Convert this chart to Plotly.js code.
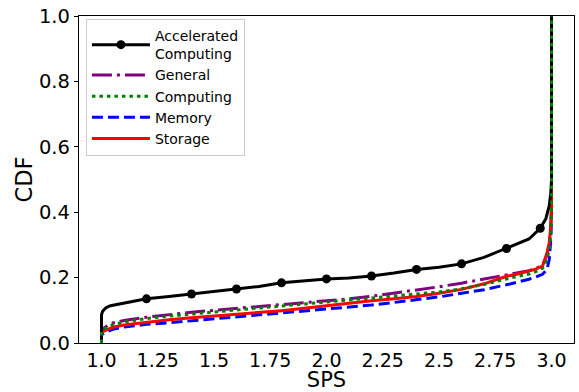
<!DOCTYPE html>
<html>
<head>
<meta charset="utf-8">
<script src="https://cdn.plot.ly/plotly-3.0.1.min.js"></script>
<style>html,body{margin:0;padding:0;background:#fff}#chart{width:579px;height:392px}</style>
</head>
<body>
<div id="chart"></div>
<script>
// ---- data ----
var seriesNames = ["Accelerated<br>Computing", "General", "Computing", "Memory", "Storage"];

var accX = [1.0, 1.0, 1.005, 1.02, 1.04, 1.1, 1.2, 1.3, 1.4, 1.5, 1.6, 1.7, 1.8, 1.9, 2.0, 2.1, 2.2, 2.3, 2.4, 2.5, 2.6, 2.7, 2.8, 2.86, 2.9, 2.95, 2.975, 2.99, 2.997, 3.0, 3.0];
var accY = [0, 0.086, 0.097, 0.108, 0.114, 0.122, 0.135, 0.142, 0.150, 0.157, 0.165, 0.173, 0.184, 0.190, 0.196, 0.199, 0.205, 0.214, 0.225, 0.232, 0.242, 0.262, 0.289, 0.307, 0.318, 0.351, 0.380, 0.420, 0.460, 0.500, 1.0];
var accMarkX = [1.2, 1.4, 1.6, 1.8, 2.0, 2.2, 2.4, 2.6, 2.8, 2.95];

var sX = [1.0, 1.0, 1.01, 1.03, 1.05, 1.1, 1.2, 1.3, 1.4, 1.5, 1.6, 1.7, 1.8, 1.9, 2.0, 2.1, 2.2, 2.3, 2.4, 2.5, 2.6, 2.7, 2.8, 2.85, 2.9, 2.93, 2.96, 2.98, 2.99, 2.997, 3.0, 3.0];
var generalY   = [0, 0.035, 0.045, 0.055, 0.061, 0.069, 0.079, 0.087, 0.094, 0.100, 0.106, 0.111, 0.116, 0.122, 0.128, 0.135, 0.143, 0.152, 0.162, 0.172, 0.183, 0.195, 0.208, 0.214, 0.221, 0.228, 0.237, 0.270, 0.300, 0.350, 0.42, 1.0];
var computingY = [0, 0.035, 0.042, 0.050, 0.056, 0.064, 0.075, 0.082, 0.089, 0.095, 0.101, 0.107, 0.113, 0.119, 0.125, 0.131, 0.136, 0.142, 0.148, 0.156, 0.166, 0.179, 0.196, 0.203, 0.211, 0.218, 0.228, 0.255, 0.285, 0.330, 0.40, 1.0];
var memoryY    = [0, 0.025, 0.030, 0.037, 0.042, 0.049, 0.057, 0.062, 0.068, 0.073, 0.078, 0.084, 0.090, 0.097, 0.104, 0.110, 0.116, 0.124, 0.132, 0.141, 0.152, 0.163, 0.178, 0.186, 0.195, 0.202, 0.210, 0.225, 0.255, 0.317, 0.40, 1.0];
var storageY   = [0, 0.030, 0.036, 0.043, 0.048, 0.055, 0.064, 0.071, 0.077, 0.082, 0.087, 0.093, 0.099, 0.106, 0.114, 0.122, 0.129, 0.135, 0.142, 0.152, 0.164, 0.181, 0.204, 0.211, 0.219, 0.226, 0.235, 0.275, 0.307, 0.360, 0.42, 1.0];

var xTickVals = [1.0, 1.25, 1.5, 1.75, 2.0, 2.25, 2.5, 2.75, 3.0];
var xTickText = ["1.0", "1.25", "1.5", "1.75", "2.0", "2.25", "2.5", "2.75", "3.0"];
var yTickVals = [0, 0.2, 0.4, 0.6, 0.8, 1.0];
var yTickText = ["0.0", "0.2", "0.4", "0.6", "0.8", "1.0"];

// ---- build ----
var accMarkY = accMarkX.map(function (mx) {
  var i = accX.indexOf(mx);
  return accY[i];
});

var FONT = "DejaVu Sans, Verdana, sans-serif";
var LW = 3;
var XRANGE = [0.9, 3.1];

var traces = [
  {x: sX, y: generalY, mode: "lines", name: seriesNames[1], legendrank: 2,
   line: {color: "#800080", width: LW, dash: "20px,5px,3px,5px"}},
  {x: sX, y: memoryY, mode: "lines", name: seriesNames[3], legendrank: 4,
   line: {color: "#0000ff", width: LW, dash: "11px,5px"}},
  {x: sX, y: storageY, mode: "lines", name: seriesNames[4], legendrank: 5,
   line: {color: "#ff0000", width: LW}},
  {x: accX, y: accY, mode: "lines", name: seriesNames[0], showlegend: false, legendgroup: "acc",
   line: {color: "#000000", width: LW}},
  {x: accMarkX, y: accMarkY, mode: "markers", name: seriesNames[0], showlegend: false, legendgroup: "acc",
   marker: {color: "#000000", size: 9}},
  {x: [null], y: [null], mode: "lines+markers", name: seriesNames[0], legendgroup: "acc", legendrank: 1,
   line: {color: "#000000", width: LW}, marker: {color: "#000000", size: 9}},
  {x: sX, y: computingY, mode: "lines", name: seriesNames[2], legendrank: 3,
   line: {color: "#008000", width: LW, dash: "3.5px,4px"}}
];

var layout = {
  width: 579, height: 392,
  margin: {l: 79, r: 5, t: 16, b: 49},
  paper_bgcolor: "#ffffff", plot_bgcolor: "#ffffff",
  font: {family: FONT, color: "#000000", size: 19},
  showlegend: true,
  legend: {
    x: 0.014, y: 0.991, xanchor: "left", yanchor: "top",
    bgcolor: "rgba(255,255,255,0.85)", bordercolor: "#cccccc", borderwidth: 1,
    font: {family: FONT, size: 14, color: "#000000"},
    itemwidth: 58, tracegroupgap: 0
  },
  xaxis: {
    range: XRANGE, tickmode: "array", tickvals: xTickVals, ticktext: xTickText,
    showgrid: false, zeroline: false, showline: true, linecolor: "#000", linewidth: 1.2, mirror: true,
    ticks: "",
    tickfont: {family: FONT, size: 19},
    title: {text: "SPS", font: {family: FONT, size: 21}, standoff: 10}
  },
  xaxis2: {
    range: XRANGE, overlaying: "x", anchor: "y", side: "bottom",
    tickmode: "array", tickvals: xTickVals, showticklabels: false,
    showgrid: false, zeroline: false, showline: false,
    ticks: "outside", ticklen: 4, tickwidth: 1, tickcolor: "#000"
  },
  yaxis: {
    range: [0, 1], tickmode: "array", tickvals: yTickVals, ticktext: yTickText,
    showgrid: false, zeroline: false, showline: true, linecolor: "#000", linewidth: 1.2, mirror: true,
    ticks: "outside", ticklen: 4, tickwidth: 1, tickcolor: "#000",
    tickfont: {family: FONT, size: 19.5},
    title: {text: "CDF", font: {family: FONT, size: 22.5}, standoff: 0}
  }
};

Plotly.newPlot("chart", traces, layout, {displayModeBar: false, staticPlot: true});
</script>
</body>
</html>
